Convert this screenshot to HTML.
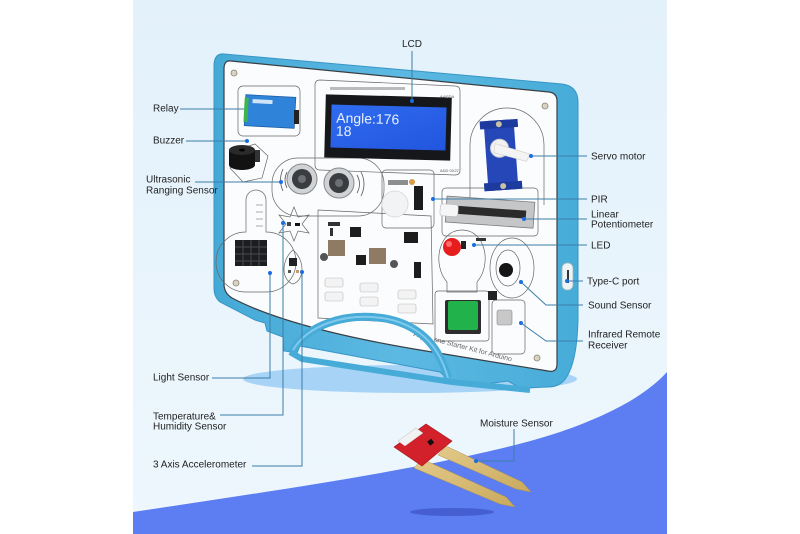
<!DOCTYPE html>
<html><head><meta charset="utf-8">
<style>
html,body{margin:0;padding:0;background:#fff;}
svg{display:block;}
text{font-family:"Liberation Sans",Arial,sans-serif;}
</style></head>
<body>
<svg width="800" height="534" viewBox="0 0 800 534" xmlns="http://www.w3.org/2000/svg">
<defs>
<linearGradient id="bg" x1="0" y1="0" x2="0" y2="1">
<stop offset="0" stop-color="#e3f1fb"/><stop offset="1" stop-color="#eef7fd"/>
</linearGradient>
<linearGradient id="wave" x1="0" y1="0" x2="0" y2="1">
<stop offset="0" stop-color="#5c7ef1"/><stop offset="1" stop-color="#5d7ef3"/>
</linearGradient>
<linearGradient id="frame" x1="0" y1="0" x2="1" y2="0">
<stop offset="0" stop-color="#45a9d6"/><stop offset="0.5" stop-color="#5cb9e2"/><stop offset="1" stop-color="#47acd8"/>
</linearGradient>
<linearGradient id="lcd" x1="0" y1="0" x2="1" y2="1">
<stop offset="0" stop-color="#2f6cf0"/><stop offset="1" stop-color="#2255de"/>
</linearGradient>
<linearGradient id="gold" x1="0" y1="0" x2="1" y2="1">
<stop offset="0" stop-color="#e3c98a"/><stop offset="1" stop-color="#c9a95c"/>
</linearGradient>
</defs>

<rect x="133" y="0" width="534" height="534" fill="url(#bg)"/>
<path d="M133,512 C300,487 470,462 560,432 C615,413 648,393 667,372 L667,534 L133,534 Z" fill="url(#wave)"/>

<ellipse cx="410" cy="379" rx="167" ry="14" fill="#a6d3f6"/>

<!-- frame -->
<path d="M224,54 L562,84 Q578,86 578,102 L578,320 Q577,362 566,378 Q560,387 548,387 L520,388 L508,381 L470,386 L452,383 L440,372 L300,346 L297,353 L284,351 L283,337 L267,331 L265,323 L255,320 L220,302 Q214,297 214,288 L214,66 Q214,53 224,54 Z" fill="url(#frame)" stroke="#3796c6" stroke-width="1"/>
<rect x="562" y="263" width="11" height="27" rx="5" fill="#eef3f6" stroke="#9bb" stroke-width="0.8"/>
<rect x="567" y="270" width="2" height="13" fill="#333"/>

<!-- white panel -->
<path d="M231,61 L549,92 Q557,93 557,101 L557,364 Q557,373 548,371 L420,350 C330,335 270,318 232,298 Q224,293 224,284 L224,69 Q224,60 231,61 Z" fill="#fbfcfd" stroke="#3a3f44" stroke-width="1.2"/>

<g fill="#d9d3c4" stroke="#8a8373" stroke-width="0.8">
<circle cx="234" cy="73" r="3"/><circle cx="545" cy="106" r="3"/><circle cx="537" cy="358" r="3"/><circle cx="236" cy="283" r="3"/>
</g>

<g fill="none" stroke="#666" stroke-width="0.7">
<rect x="238" y="86" width="62" height="50" rx="5"/>
<path d="M320,80 L455,86 Q460,86 460,91 L460,170 Q460,175 455,175 L320,170 Q315,170 315,165 L315,85 Q315,80 320,80 Z"/>
<polygon points="236,150 255,144 268,156 262,178 243,182 230,168"/>
<rect x="272" y="158" width="112" height="58" rx="26"/>
<path d="M470,205 L470,145 A37,37 0 0 1 544,145 L544,205"/>
<rect x="382" y="170" width="52" height="58" rx="4"/>
<rect x="442" y="188" width="96" height="48" rx="4"/>
<path d="M246,292 A24,24 0 0 1 246,232 L246,200 A10,10 0 0 1 266,200 L266,232 A24,24 0 0 1 266,292 Z"/>
<polygon points="294,207 298,217 309,215 302,224 309,233 298,231 294,241 290,231 279,233 286,224 279,215 290,217"/>
<path d="M293,250 C305,260 305,280 293,284 C281,280 281,260 293,250 Z"/>
<path d="M318,210 L431,216 L433,324 L318,318 Z"/>
<path d="M447,282 C432,265 438,230 462,230 C486,230 492,265 477,282 L477,292 L447,292 Z"/>
<ellipse cx="512" cy="268" rx="22" ry="30"/>
<ellipse cx="508" cy="268" rx="12" ry="18"/>
<rect x="435" y="291" width="54" height="50" rx="3"/>
<rect x="492" y="300" width="33" height="54" rx="4"/>
</g>

<g transform="rotate(3 270 112)">
<rect x="245" y="96" width="50" height="31" fill="#2f83d8" stroke="#1c5fa8" stroke-width="0.8"/>
<rect x="244" y="99" width="4" height="24" fill="#3db54a"/>
<rect x="252" y="100" width="20" height="4" fill="#cfe4f7"/>
</g>
<rect x="294" y="110" width="5" height="14" fill="#222"/>

<g transform="rotate(1.5 388 128)">
<rect x="325" y="96" width="126" height="63" fill="#15171a"/>
<rect x="331" y="106" width="115" height="43" fill="url(#lcd)"/>
<text x="336" y="124" font-family="Liberation Mono,monospace" font-size="14" fill="#e8f0ff">Angle:176</text>
<text x="336" y="137" font-family="Liberation Mono,monospace" font-size="14" fill="#e8f0ff">18</text>
</g>
<g fill="#bbb"><rect x="330" y="87" width="75" height="3"/></g>
<text x="440" y="98" font-size="4" fill="#555">A4/SDA</text>
<text x="440" y="172" font-size="4" fill="#555">ADD 0X27</text>

<rect x="229" y="150" width="26" height="15" fill="#121212"/>
<ellipse cx="242" cy="165" rx="13" ry="5" fill="#121212"/>
<ellipse cx="242" cy="150" rx="13" ry="5" fill="#2a2a2a"/>
<ellipse cx="242" cy="150" rx="3" ry="1.5" fill="#000"/>
<rect x="255" y="150" width="5" height="12" fill="#333"/>

<circle cx="302" cy="179" r="15" fill="#cfd3d6" stroke="#888" stroke-width="1"/>
<circle cx="302" cy="179" r="10" fill="#3a3c40"/>
<circle cx="302" cy="179" r="4" fill="#6c6f74"/>
<circle cx="339" cy="183" r="15" fill="#cfd3d6" stroke="#888" stroke-width="1"/>
<circle cx="339" cy="183" r="10" fill="#3a3c40"/>
<circle cx="339" cy="183" r="4" fill="#6c6f74"/>
<g fill="none" stroke="#555" stroke-width="0.8">
<path d="M287,172 Q283,180 287,188"/><path d="M283,169 Q278,180 283,191"/>
<path d="M357,175 Q362,184 357,193"/><path d="M361,172 Q367,184 361,196"/>
</g>

<g transform="rotate(-4 503 155)">
<rect x="486" y="120" width="30" height="70" rx="3" fill="#2547b8"/>
<rect x="482" y="120" width="38" height="8" fill="#1d3a9e"/>
<rect x="482" y="182" width="38" height="8" fill="#1d3a9e"/>
<circle cx="501" cy="124" r="3" fill="#c9c1a5"/>
<circle cx="501" cy="186" r="3" fill="#c9c1a5"/>
<circle cx="500" cy="148" r="9" fill="#f2f2f2" stroke="#ccc"/>
<path d="M496,143 L530,156 L526,163 L494,152 Z" fill="#f4f4f4" stroke="#ccc" stroke-width="0.6"/>
</g>

<circle cx="395" cy="204" r="13" fill="#f2f3f4" stroke="#ddd" stroke-width="1"/>
<rect x="414" y="186" width="9" height="24" fill="#1b1b1b"/>
<circle cx="412" cy="182" r="3" fill="#d99a4a"/>
<rect x="388" y="180" width="20" height="5" fill="#444" opacity="0.6"/>

<g transform="rotate(4 488 213)">
<rect x="446" y="199" width="88" height="26" fill="#c4c6c8" stroke="#7a7d80" stroke-width="0.8"/>
<rect x="458" y="208" width="68" height="8" fill="#2b2b2b"/>
<rect x="440" y="207" width="18" height="12" rx="3" fill="#f6f6f6" stroke="#bbb" stroke-width="0.6"/>
</g>

<rect x="235" y="240" width="32" height="26" fill="#1c1d20"/>
<g stroke="#4a4c50" stroke-width="1"><line x1="235" y1="247" x2="267" y2="247"/><line x1="235" y1="254" x2="267" y2="254"/><line x1="235" y1="261" x2="267" y2="261"/><line x1="243" y1="240" x2="243" y2="266"/><line x1="251" y1="240" x2="251" y2="266"/><line x1="259" y1="240" x2="259" y2="266"/></g>
<g stroke="#777" stroke-width="0.6"><line x1="256" y1="205" x2="263" y2="205"/><line x1="256" y1="212" x2="263" y2="212"/><line x1="256" y1="219" x2="263" y2="219"/><line x1="256" y1="226" x2="263" y2="226"/></g>

<rect x="287" y="222" width="4" height="4" fill="#444"/><rect x="295" y="223" width="5" height="3" fill="#111"/>
<rect x="289" y="258" width="8" height="8" fill="#222"/>
<rect x="288" y="270" width="3" height="3" fill="#555"/><rect x="296" y="270" width="3" height="3" fill="#c96"/>

<rect x="328" y="240" width="17" height="16" fill="#8f7a64"/>
<rect x="369" y="248" width="17" height="16" fill="#8f7a64"/>
<rect x="350" y="227" width="11" height="10" fill="#1d1d1d"/>
<rect x="404" y="232" width="14" height="11" fill="#1d1d1d"/>
<rect x="356" y="255" width="10" height="10" fill="#1d1d1d"/>
<rect x="414" y="262" width="7" height="16" fill="#1d1d1d"/>
<rect x="328" y="222" width="12" height="4" fill="#333"/>
<rect x="330" y="228" width="3" height="8" fill="#333"/>
<circle cx="324" cy="257" r="4" fill="#555"/>
<circle cx="394" cy="264" r="4" fill="#555"/>
<g fill="#f3f3f3" stroke="#bbb" stroke-width="0.6">
<rect x="325" y="278" width="18" height="9" rx="2"/><rect x="325" y="292" width="18" height="9" rx="2"/>
<rect x="360" y="283" width="18" height="9" rx="2"/><rect x="360" y="297" width="18" height="9" rx="2"/>
<rect x="398" y="290" width="18" height="9" rx="2"/><rect x="398" y="304" width="18" height="9" rx="2"/>
</g>

<circle cx="452" cy="247" r="9" fill="#e51d1d"/>
<circle cx="449" cy="244" r="3" fill="#ff6a6a"/>
<rect x="461" y="241" width="5" height="8" fill="#222"/>
<rect x="476" y="238" width="10" height="3" fill="#333"/>

<circle cx="506" cy="270" r="7" fill="#151515"/>
<rect x="488" y="291" width="9" height="9" fill="#222"/>

<rect x="445" y="300" width="36" height="34" rx="2" fill="#2d2d2d"/>
<rect x="448" y="301" width="30" height="29" rx="2" fill="#22b24c"/>

<rect x="497" y="310" width="15" height="15" rx="2" fill="#c8c8c8" stroke="#888" stroke-width="0.6"/>

<text x="413" y="336" font-size="7" fill="#666" transform="rotate(14.5 413 336)">All_in_one Starter Kit for Arduino</text>

<!-- handle -->
<path d="M292,352 C305,326 345,311 388,319 C424,327 440,350 448,378" fill="none" stroke="#47abd8" stroke-width="8"/>
<path d="M292,352 C305,326 345,311 388,319 C424,327 440,350 448,378" fill="none" stroke="#7fcaec" stroke-width="2"/>
<path d="M290,352 L302,359 L452,382 L530,390" fill="none" stroke="#47abd8" stroke-width="6"/>

<!-- moisture sensor -->
<ellipse cx="452" cy="512" rx="42" ry="4" fill="#3d56c4" opacity="0.75"/>
<polygon points="438,455 446,446 522,482 531,492 516,489" fill="url(#gold)" stroke="#b49347" stroke-width="0.5"/>
<polygon points="414,468 422,459 506,497 515,507 500,504" fill="url(#gold)" stroke="#b49347" stroke-width="0.5"/>
<polygon points="394,447 426,424 452,441 422,466" fill="#d3212b" stroke="#a3151d" stroke-width="0.6"/>
<polygon points="398,441 416,428 423,433 405,446" fill="#f2f2f2" stroke="#bbb" stroke-width="0.5"/>
<rect x="428" y="440" width="5" height="5" fill="#111" transform="rotate(-35 430 442)"/>

<g fill="none" stroke="#3b7ea8" stroke-width="1">
<path d="M412,51 V101"/>
<path d="M180,109 H244"/>
<path d="M186,141 H247"/>
<path d="M195,182 H281"/>
<path d="M212,378 H270 V273"/>
<path d="M220,415 H283 V223"/>
<path d="M252,466 H302 V272"/>
<path d="M514,429 V461 H476"/>
<path d="M531,156 H587"/>
<path d="M433,199 H587"/>
<path d="M524,219 H587"/>
<path d="M474,245 H587"/>
<path d="M566,281 H583"/>
<path d="M521,282 L546,305 H583"/>
<path d="M521,323 L546,341 H583"/>
</g>
<g fill="#1a6ee0">
<circle cx="412" cy="101" r="2"/>
<circle cx="247" cy="141" r="2"/>
<circle cx="281" cy="182" r="2"/>
<circle cx="270" cy="273" r="2"/>
<circle cx="283" cy="223" r="2"/>
<circle cx="302" cy="272" r="2"/>
<circle cx="476" cy="461" r="2"/>
<circle cx="531" cy="156" r="2"/>
<circle cx="433" cy="199" r="2"/>
<circle cx="524" cy="219" r="2"/>
<circle cx="474" cy="245" r="2"/>
<circle cx="567" cy="281" r="2"/>
<circle cx="521" cy="282" r="2"/>
<circle cx="521" cy="323" r="2"/>
</g>

<g font-size="10" fill="#222">
<text x="412" y="47" text-anchor="middle">LCD</text>
<text x="153" y="111.5">Relay</text>
<text x="153" y="143.5">Buzzer</text>
<text x="146" y="182.5">Ultrasonic</text>
<text x="146" y="193.5">Ranging Sensor</text>
<text x="153" y="380.5">Light Sensor</text>
<text x="153" y="419.5">Temperature&amp;</text>
<text x="153" y="429.5">Humidity Sensor</text>
<text x="153" y="467.5">3 Axis Accelerometer</text>
<text x="480" y="426.5">Moisture Sensor</text>
<text x="591" y="159.5">Servo motor</text>
<text x="591" y="202.5">PIR</text>
<text x="591" y="217.5">Linear</text>
<text x="591" y="227.5">Potentiometer</text>
<text x="591" y="248.5">LED</text>
<text x="587" y="284.5">Type-C port</text>
<text x="588" y="308.5">Sound Sensor</text>
<text x="588" y="337.5">Infrared Remote</text>
<text x="588" y="348.5">Receiver</text>
</g>
</svg>
</body></html>
